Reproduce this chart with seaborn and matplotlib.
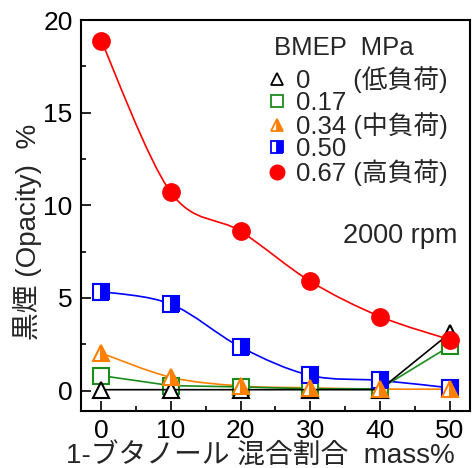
import numpy as np
import pandas as pd
import seaborn as sns
import matplotlib.pyplot as plt
from matplotlib.path import Path
from matplotlib.patches import PathPatch
from matplotlib.lines import Line2D
from matplotlib.ticker import MultipleLocator

# データ
mass = [0, 10, 20, 30, 40, 50]
bmep_000 = [0.05, 0.05, 0.05, 0.05, 0.05, 3.1]
bmep_017 = [0.81, 0.27, 0.2, 0.1, 0.1, 2.4]
bmep_034 = [2.03, 0.72, 0.25, 0.15, 0.08, 0.08]
bmep_050 = [5.35, 4.67, 2.35, 0.82, 0.55, 0.15]
bmep_067 = [18.9, 10.7, 8.6, 5.9, 4.0, 2.75]
labels = ['0      (低負荷)', '0.17', '0.34 (中負荷)', '0.50', '0.67 (高負荷)']

sns.set_theme(style='ticks')
plt.rcParams['font.family'] = ['Liberation Sans', 'Noto Sans CJK JP', 'DejaVu Sans']
plt.rcParams['font.size'] = 19


def smooth_curve(ax, x, y, color):
    # Catmull-Rom -> ベジェ曲線で滑らかに描く
    pts = np.column_stack([x, y]).astype(float)
    p = np.vstack([pts[0], pts, pts[-1]])
    verts = [tuple(pts[0])]
    codes = [Path.MOVETO]
    for i in range(1, len(p) - 2):
        c1 = p[i] + (p[i + 1] - p[i - 1]) / 6
        c2 = p[i + 1] - (p[i + 2] - p[i]) / 6
        verts += [tuple(c1), tuple(c2), tuple(p[i + 1])]
        codes += [Path.CURVE4] * 3
    ax.add_patch(PathPatch(Path(verts, codes), fill=False, edgecolor=color, lw=1.2, zorder=2))


fig, ax = plt.subplots(figsize=(4.73, 4.68), dpi=100)
fig.subplots_adjust(left=0.171, right=0.9937, bottom=0.1218, top=0.957)

df = pd.DataFrame({'mass': mass, '0': bmep_000, '0.17': bmep_017, '0.34': bmep_034,
                   '0.50': bmep_050, '0.67': bmep_067})

# 0.17 (緑, 直線)
sns.lineplot(data=df, x='mass', y='0.17', ax=ax, color='#1a8c1a', lw=1.2, marker='s', ms=11,
             mfc='white', mec='#1a8c1a', mew=1.5, zorder=3)
# 0 (黒, 直線)
sns.lineplot(data=df, x='mass', y='0', ax=ax, color='black', lw=1.2, marker='^', ms=12,
             mfc='white', mec='black', mew=1.5, zorder=3)
# 0.50 (青, 曲線)
smooth_curve(ax, mass, bmep_050, 'blue')
sns.lineplot(data=df, x='mass', y='0.50', ax=ax, color='blue', linestyle='none', marker='s', ms=11,
             fillstyle='right', mfc='blue', mfcalt='white', mec='blue', mew=1.5, zorder=4)
# 0.34 (橙, 曲線)
smooth_curve(ax, mass, bmep_034, '#ff8000')
sns.lineplot(data=df, x='mass', y='0.34', ax=ax, color='#ff8000', linestyle='none', marker='^', ms=12,
             fillstyle='right', mfc='#ff8000', mfcalt='white', mec='#ff8000', mew=1.5, zorder=4)
# 0.67 (赤, 曲線)
smooth_curve(ax, mass, bmep_067, 'red')
sns.lineplot(data=df, x='mass', y='0.67', ax=ax, color='red', linestyle='none', marker='o', ms=12.5,
             mfc='red', mec='red', mew=1, zorder=5)

ax.set_xlim(-2.9, 52.9)
ax.set_ylim(-1.1, 20)
ax.xaxis.set_major_locator(MultipleLocator(10))
ax.xaxis.set_minor_locator(MultipleLocator(5))
ax.yaxis.set_major_locator(MultipleLocator(5))
ax.yaxis.set_minor_locator(MultipleLocator(2.5))
ax.tick_params(which='both', direction='in', width=1.2, colors='black', labelsize=19, pad=6)
ax.tick_params(which='major', length=7)
ax.tick_params(which='minor', length=3.5)
for s in ax.spines.values():
    s.set_linewidth(1.5)
    s.set_color('black')

ax.set_xlabel('1-ブタノール 混合割合  mass%', fontsize=20)
ax.xaxis.set_label_coords(0.461, -0.082)
ax.set_ylabel('黒煙 (Opacity)  %', fontsize=20)
ax.yaxis.set_label_coords(-0.099, 0.458)

handles = [
    Line2D([], [], linestyle='none', marker='^', ms=9, mfc='white', mec='black', mew=1.3),
    Line2D([], [], linestyle='none', marker='s', ms=8, mfc='white', mec='#1a8c1a', mew=1.3),
    Line2D([], [], linestyle='none', marker='^', ms=9, fillstyle='right', mfc='#ff8000',
           mfcalt='white', mec='#ff8000', mew=1.3),
    Line2D([], [], linestyle='none', marker='s', ms=8, fillstyle='right', mfc='blue',
           mfcalt='white', mec='blue', mew=1.3),
    Line2D([], [], linestyle='none', marker='o', ms=10.5, mfc='red', mec='red'),
]
leg = ax.legend(handles, labels, loc='upper left', bbox_to_anchor=(0.477, 0.882),
                frameon=False, fontsize=18.5, borderpad=0, borderaxespad=0,
                handlelength=0.8, handletextpad=0.35, labelspacing=-0.09)
ax.text(0.496, 0.9105, 'BMEP  MPa', transform=ax.transAxes, ha='left', va='baseline', fontsize=18.5)

ax.text(0.968, 0.43, '2000 rpm', transform=ax.transAxes, ha='right', va='baseline', fontsize=19.5)

fig.savefig('out.png', dpi=100)
